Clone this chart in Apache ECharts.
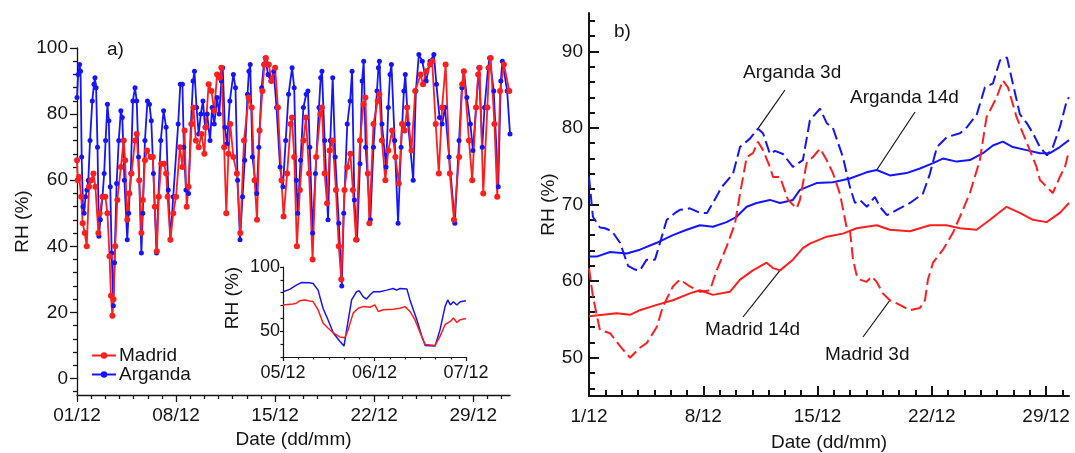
<!DOCTYPE html>
<html>
<head>
<meta charset="utf-8">
<title>Relative humidity, Madrid and Arganda, December</title>
<script src="https://cdn.jsdelivr.net/npm/echarts@6/dist/echarts.min.js"></script>
<style>
  html, body { margin: 0; padding: 0; background: #fff; }
  #chart { width: 1075px; height: 453px; }
</style>
</head>
<body>
<div id="chart"></div>
<script>
// ---------------------------------------------------------------
// Panel a) : RH records, [days since 01/12 00:00, RH %]
// ---------------------------------------------------------------
const argandaRH = [
  [0.00,85],[0.08,92],[0.18,95],[0.25,93],[0.33,67],[0.42,52],[0.50,50],[0.60,55],[0.70,57],[0.80,60],[0.92,72],
  [1.08,84],[1.20,89],[1.27,91],[1.35,88],[1.45,70],[1.55,43],[1.65,48],[1.80,55],[1.92,62],
  [2.02,72],[2.15,83],[2.25,78],[2.35,58],[2.45,38],[2.57,22],[2.65,35],[2.80,59],[2.95,72],
  [3.10,81],[3.20,79],[3.35,60],[3.55,42],[3.65,50],[3.80,62],[3.95,84],
  [4.10,88],[4.22,84],[4.35,67],[4.55,38],[4.65,50],[4.80,72],[4.98,84],
  [5.12,83],[5.25,78],[5.40,62],[5.62,38],[5.75,55],[5.92,72],
  [6.12,81],[6.30,76],[6.45,57],[6.60,42],[6.80,55],
  [7.15,77],[7.30,89],[7.45,89],[7.55,70],[7.70,57],[7.88,56],
  [8.05,77],[8.20,90],[8.30,93],[8.45,82],[8.60,74],[8.75,80],[8.90,84],
  [9.05,76],[9.20,80],[9.40,72],[9.55,82],[9.70,77],[9.90,85],
  [10.05,80],[10.20,90],[10.30,94],[10.45,76],[10.60,71],[10.80,84],
  [11.05,92],[11.20,88],[11.35,60],[11.52,42],[11.70,55],[11.85,66],
  [12.05,86],[12.15,93],[12.24,95],[12.40,67],[12.70,56],[12.85,70],
  [13.05,88],[13.20,95],[13.30,97],[13.50,92],[13.70,90],[13.90,93],
  [14.10,82],[14.35,64],[14.55,58],[14.75,72],[14.95,86],
  [15.20,94],[15.35,88],[15.50,60],[15.60,50],[15.80,66],
  [16.00,82],[16.20,86],[16.32,87],[16.45,70],[16.65,44],[16.85,62],
  [17.10,82],[17.22,91],[17.31,93],[17.50,72],[17.74,48],[17.90,72],
  [18.07,91],[18.25,67],[18.50,47],[18.71,28],[18.85,50],
  [19.10,77],[19.30,84],[19.44,93],[19.60,54],[19.79,42],
  [20.00,65],[20.15,90],[20.26,96],[20.40,70],[20.73,48],[20.95,70],
  [21.20,87],[21.30,94],[21.37,96],[21.55,77],[21.84,64],
  [22.00,82],[22.12,92],[22.22,95],[22.45,72],[22.69,47],[22.90,70],
  [23.10,87],[23.20,92],[23.40,77],[23.76,60],[23.95,87],
  [24.16,98],[24.40,96],[24.68,90],[24.95,96],
  [25.22,98],[25.40,89],[25.62,79],[25.80,77],
  [26.00,82],[26.30,67],[26.70,47],
  [27.00,72],[27.20,88],[27.34,93],[27.55,85],[27.80,77],[27.98,69],
  [28.20,82],[28.40,94],[28.64,70],[28.80,82],
  [29.05,94],[29.16,97],[29.45,87],[29.77,58],
  [29.95,90],[30.06,96],[30.40,87],[30.60,74]
];

const madridRH = [
  [0.00,66],[0.05,60],[0.15,61],[0.30,55],[0.40,47],[0.55,44],[0.69,40],[0.85,58],
  [1.00,60],[1.16,62],[1.30,58],[1.51,44],[1.60,50],[1.80,55],
  [2.00,55],[2.15,50],[2.30,37],[2.40,25],[2.50,19],[2.58,24],[2.70,40],[2.85,54],
  [3.10,64],[3.30,72],[3.40,66],[3.55,48],[3.70,56],[3.85,62],
  [4.10,72],[4.22,74],[4.40,60],[4.55,44],[4.65,54],[4.80,66],[4.95,69],
  [5.20,67],[5.36,67],[5.50,52],[5.64,38.5],[5.78,55],[5.95,65],
  [6.15,65],[6.30,62],[6.40,55],[6.60,42],[6.80,50],
  [7.00,55],[7.27,70],[7.45,64],[7.60,75],[7.75,52],[7.88,58],
  [8.10,77],[8.23,82],[8.40,72],[8.60,70],[8.80,74],
  [9.00,68],[9.10,76],[9.30,89],[9.50,87],[9.70,81],[9.90,92],
  [10.10,91],[10.20,94],[10.40,70],[10.55,50],[10.70,68],[10.83,77],
  [11.05,67],[11.30,62],[11.54,44],[11.80,72],
  [12.13,85],[12.35,82],[12.55,60],[12.72,48],[12.90,75],
  [13.10,87],[13.25,95],[13.35,97],[13.55,95],[13.75,90],
  [14.00,94],[14.20,82],[14.45,60],[14.60,49],[14.85,62],
  [15.10,77],[15.19,79],[15.35,67],[15.54,40],[15.75,57],
  [16.00,72],[16.18,79],[16.40,62],[16.65,36],[16.90,67],
  [17.20,80],[17.31,82],[17.50,62],[17.67,53],[17.85,69],
  [18.07,72],[18.30,57],[18.50,40],[18.68,30],[18.90,57],
  [19.10,64],[19.32,68],[19.50,57],[19.72,42],
  [20.00,72],[20.25,83],[20.38,85],[20.55,62],[20.66,47],[20.95,77],
  [21.25,84],[21.37,86],[21.55,72],[21.79,60],
  [22.00,69],[22.27,75],[22.50,67],[22.74,59],[22.97,77],
  [23.15,75],[23.33,82],[23.64,69],[23.90,87],
  [24.28,92],[24.45,89],[24.68,93],
  [24.95,95],[25.10,96],[25.35,77],[25.57,62],[25.80,82],
  [26.05,95],[26.35,62],[26.64,48],
  [27.00,67],[27.22,89],[27.34,93],[27.70,72],[27.93,60],
  [28.20,82],[28.35,92],[28.45,94],[28.71,56],
  [29.00,82],[29.12,94],[29.23,97],[29.50,77],[29.70,55],[29.90,87],
  [30.17,95],[30.55,87]
];

// Inset: 05/12 00:00 – 07/12 00:00, [hours since 05/12 00:00, RH %]
const insetArganda = [
  [0,80.8],[1.75,82.6],[3.5,85.9],[4.8,87.9],[7,87.7],[7.9,87.2],[9.2,82],[10.5,67.9],[11.8,59],
  [13.2,48.7],[14.9,42.3],[16,38.5],[16.7,51.3],[18,74.4],[19.3,80.8],[20,81.5],[21,76.9],[21.9,75.1],
  [22.8,78.2],[23.7,80.8],[25.4,80.8],[27.2,82],[28.9,83.3],[29.8,82],[30.7,83.3],[32.5,82.8],
  [33.3,74.4],[35.1,59],[36.4,46.2],[37.3,39],[39.9,38.5],[41.2,51.3],[42.5,69.2],[43.2,74.4],
  [43.9,70.5],[44.7,73],[45.6,70.5],[46.5,73],[48,73.8]
];
const insetMadrid = [
  [0,70.5],[2.6,71.3],[3.5,71.8],[4.4,73.8],[5.7,74.4],[7,73.6],[7.9,73.1],[9.2,66.7],[10.5,56.4],
  [11.8,52.6],[13.2,48.7],[14.9,45.6],[16.2,44.9],[17.1,51.3],[18.4,64.1],[19.7,67.9],[21,69.2],
  [22.8,68.7],[24.1,70.5],[25,65.4],[26.3,66.7],[28.9,67.2],[30.7,67.9],[32,69.2],[33.3,65.4],
  [34.6,59],[36,48.7],[37.3,39.7],[39.9,39],[41.2,46.2],[42.5,55.1],[43.9,57.7],[44.7,60.3],
  [45.6,56.9],[46.5,59],[48,60]
];

// ---------------------------------------------------------------
// Panel b) : running means, [days since 1/12 00:00, RH %]
// ---------------------------------------------------------------
const arganda3d = [
  [0,73.6],[0.24,68.4],[0.67,67],[0.98,66.9],[1.41,66.5],[1.9,65],[2.39,62],[2.82,61.5],[3.12,61.4],
  [3.53,62.8],[4.04,62.8],[4.35,65],[4.76,68],[5.27,68.9],[5.57,69.3],[6.18,69.5],[6.8,68.9],[7.23,68.9],
  [7.59,70.2],[8.14,72.3],[8.82,74],[9.25,77.5],[9.86,78.6],[10.35,79.9],[10.66,79.3],[11.08,76.6],
  [11.39,77],[11.88,76.6],[12.49,74.9],[13.1,75.8],[13.53,81],[14.15,82.5],[14.57,80.6],[14.94,80],
  [15.55,76.2],[15.98,72.3],[16.29,70.2],[16.59,70.6],[17.02,69.7],[17.51,71],[17.82,69.7],[18.25,68.6],
  [18.86,69.3],[19.66,70.2],[20.45,71.4],[20.88,74],[21.31,77.5],[21.92,78.8],[22.72,79.3],[23.15,80.1],
  [23.76,81.8],[24.25,85.3],[24.74,85.8],[25.17,88.8],[25.6,89.2],[25.96,85.8],[26.39,81.8],[26.82,80.6],
  [27.19,79.3],[27.62,77.5],[28.05,76.4],[28.41,77.5],[28.84,80.1],[29.27,83.6],[29.4,84]
];
const arganda14d = [
  [0,63.2],[0.47,63.2],[1.29,63.8],[2.31,63.6],[3.12,64.1],[4.15,65],[5.14,66],[5.98,66.7],[6.8,67.3],
  [7.59,67.1],[8.43,67.7],[9.04,68.4],[9.66,69.7],[10.27,70.2],[11.08,70.6],[11.7,70.2],[12.49,70.6],
  [12.92,71.9],[13.94,72.8],[14.94,72.9],[15.98,73.4],[17,74.2],[17.62,74.5],[18.43,73.8],[19.45,74.1],
  [20.27,74.7],[21.07,75.4],[21.68,76],[22.52,75.6],[23.33,75.8],[24.13,76.7],[24.74,77.7],[25.35,78.2],
  [25.96,77.5],[26.8,77.1],[27.62,76.7],[28.23,76.7],[28.84,77.5],[29.4,78.4]
];
const madrid3d = [
  [0,61.7],[0.24,58],[0.67,53.6],[1.29,53.2],[1.9,51.5],[2.51,50],[3.12,51.3],[3.53,51.9],[4.15,54],
  [4.53,56.7],[5.14,59.3],[5.57,60.2],[6.18,59.3],[6.8,58.6],[7.41,58.8],[7.82,61.4],[8.43,64.5],
  [8.94,67.5],[9.25,71.4],[9.66,76.2],[10.04,76.7],[10.35,78.2],[10.66,77.1],[11.08,74.9],[11.27,73.6],
  [11.7,73.6],[12.19,70.6],[12.72,69.5],[12.92,70.6],[13.33,75.4],[13.72,76.2],[14.15,77.3],[14.56,75.8],
  [14.94,74.1],[15.37,71.4],[15.78,67],[15.98,66.7],[16.17,62.8],[16.39,60.8],[16.59,60.2],[17,59.9],
  [17.31,60.6],[17.62,59.9],[18,58.4],[18.43,57.5],[19.04,56.9],[19.66,56.2],[20.27,56.5],[20.58,57.5],
  [20.76,60.2],[21.07,62.4],[21.68,64.1],[22.29,66.3],[22.72,68.4],[23.33,71.5],[23.94,75.8],[24.35,81.4],
  [24.97,84],[25.35,86.2],[25.66,85.3],[26.19,81.4],[26.58,79.3],[27,77.1],[27.41,74.9],[27.62,73.2],
  [28.03,72.3],[28.41,71.5],[28.84,73.6],[29.15,74.9],[29.4,77]
];
const madrid14d = [
  [0,55.4],[0.86,55.6],[1.7,55.8],[2.51,55.6],[3.12,56.2],[4.15,56.9],[5.14,57.5],[6.18,58.4],[6.8,58.8],
  [7.59,58.2],[8.63,58.6],[9.25,60.2],[10.04,61.4],[10.88,62.4],[11.27,61.7],[11.7,61.4],[12.49,62.8],
  [13.1,64.3],[13.53,64.9],[14.56,65.8],[15.55,66.2],[16.39,66.9],[17.62,67.3],[18.43,66.7],[19.66,66.5],
  [20.88,67.3],[21.9,67.3],[22.72,66.9],[23.74,66.7],[24.56,68],[25.58,69.7],[26.39,68.9],[27.19,68],
  [28.03,67.7],[28.84,68.9],[29.4,70.2]
];

// Tick values and labels
const dateTicks = [0, 7, 14, 21, 28];
const dateLabelsA = ['01/12', '08/12', '15/12', '22/12', '29/12'];
const dateLabelsB = ['1/12', '8/12', '15/12', '22/12', '29/12'];
const insetHourTicks = [0, 24, 48];
const insetDateLabels = ['05/12', '06/12', '07/12'];
const rhTicksA = [0, 20, 40, 60, 80, 100];
const rhTicksInset = [50, 100];
const rhTicksB = [50, 60, 70, 80, 90];

// ---------------------------------------------------------------
const FONT = '"Liberation Sans", Arial, sans-serif';
const INK = '#141414';
const RED = '#ff1e1e';
const BLUE = '#1414ff';

function steps(from, to, step, skip) {
  const out = [];
  for (let v = from; v <= to + 1e-9; v += step) {
    const r = Math.round(v * 100) / 100;
    if (!skip.includes(r)) out.push(r);
  }
  return out;
}

// One labelled axis plus a second, line-less axis that only carries minor ticks
function axisPair(c) {
  const lineStyle = { color: INK, width: c.lw };
  const major = {
    type: 'value', gridIndex: c.grid, min: c.min, max: c.max, position: c.position,
    axisLine: { show: true, onZero: false, lineStyle: lineStyle },
    axisTick: { show: true, inside: c.inside, length: c.majorLen, customValues: c.major, lineStyle: lineStyle },
    axisLabel: {
      show: true, customValues: c.major, margin: c.margin, color: INK,
      fontFamily: FONT, fontSize: c.fs,
      formatter: v => c.labels[c.major.indexOf(v)]
    },
    splitLine: { show: false },
    name: c.name || '', nameLocation: 'middle', nameGap: c.nameGap || 0,
    nameRotate: c.nameRotate || 0,
    nameTextStyle: { color: INK, fontFamily: FONT, fontSize: 19 }
  };
  const minor = {
    type: 'value', gridIndex: c.grid, min: c.min, max: c.max, position: c.position,
    axisLine: { show: false, onZero: false },
    axisTick: { show: true, inside: c.inside, length: c.minorLen, customValues: c.minor, lineStyle: lineStyle },
    axisLabel: { show: false },
    splitLine: { show: false }
  };
  return [major, minor];
}

const xAxes = [].concat(
  axisPair({ grid: 0, min: 0, max: 30.6, position: 'bottom', lw: 1.3, inside: false,
    major: dateTicks, labels: dateLabelsA, minor: steps(0, 30, 1, dateTicks),
    majorLen: 7, minorLen: 4, margin: 11, fs: 19, name: 'Date (dd/mm)', nameGap: 34 }),
  axisPair({ grid: 1, min: 0, max: 48, position: 'bottom', lw: 1.2, inside: false,
    major: insetHourTicks, labels: insetDateLabels, minor: steps(0, 48, 4, insetHourTicks),
    majorLen: 4, minorLen: 2.5, margin: 7, fs: 18 }),
  axisPair({ grid: 2, min: 0, max: 29.4, position: 'bottom', lw: 2, inside: true,
    major: dateTicks, labels: dateLabelsB, minor: steps(0, 29, 1, dateTicks),
    majorLen: 10, minorLen: 6, margin: 11, fs: 19, name: 'Date (dd/mm)', nameGap: 37 })
);
const yAxes = [].concat(
  axisPair({ grid: 0, min: -5, max: 100, position: 'left', lw: 1.3, inside: false,
    major: rhTicksA, labels: rhTicksA.map(String), minor: steps(-4, 96, 4, rhTicksA),
    majorLen: 7, minorLen: 4, margin: 9, fs: 19, name: 'RH (%)', nameGap: 45, nameRotate: 90 }),
  axisPair({ grid: 1, min: 30, max: 100, position: 'left', lw: 1.2, inside: false,
    major: rhTicksInset, labels: rhTicksInset.map(String), minor: steps(30, 90, 10, rhTicksInset),
    majorLen: 3, minorLen: 2.5, margin: 3, fs: 18 }),
  axisPair({ grid: 2, min: 45, max: 95, position: 'left', lw: 2, inside: true,
    major: rhTicksB, labels: rhTicksB.map(String), minor: steps(46, 94, 2, rhTicksB),
    majorLen: 10, minorLen: 6, margin: 6, fs: 19, name: 'RH (%)', nameGap: 31, nameRotate: 90 })
);

function recordSeries(name, data, color, size) {
  return {
    name: name, type: 'line', xAxisIndex: 0, yAxisIndex: 0, data: data,
    symbol: 'circle', symbolSize: size, showSymbol: true,
    lineStyle: { color: color, width: 1.8 }, itemStyle: { color: color },
    emphasis: { disabled: true }
  };
}
function plainSeries(name, data, color, grid, width, dashed) {
  return {
    name: name, type: 'line', xAxisIndex: grid * 2, yAxisIndex: grid * 2, data: data,
    showSymbol: false, symbol: 'none',
    lineStyle: { color: color, width: width, type: dashed ? [12, 5] : 'solid' },
    itemStyle: { color: color },
    emphasis: { disabled: true }
  };
}

const chart = echarts.init(document.getElementById('chart'), null, { renderer: 'canvas' });

chart.setOption({
  animation: false,
  backgroundColor: '#ffffff',
  textStyle: { fontFamily: FONT },
  grid: [
    { left: 77, top: 48, width: 433, height: 347, outerBoundsMode: 'none', containLabel: false },
    { left: 283, top: 267, width: 183, height: 90, outerBoundsMode: 'none', containLabel: false },
    { left: 589, top: 13, width: 480, height: 383, outerBoundsMode: 'none', containLabel: false }
  ],
  xAxis: xAxes,
  yAxis: yAxes,
  legend: {
    data: ['Madrid', 'Arganda'], orient: 'vertical', left: 86, top: 341,
    itemWidth: 24, itemHeight: 8, itemGap: 0, selectedMode: false,
    textStyle: { color: INK, fontFamily: FONT, fontSize: 19, padding: [0, 0, 0, -2] }
  },
  series: [
    recordSeries('Arganda', argandaRH, BLUE, 5),
    recordSeries('Madrid', madridRH, RED, 6),
    plainSeries('Arganda, 05–07/12', insetArganda, BLUE, 1, 1.5, false),
    plainSeries('Madrid, 05–07/12', insetMadrid, RED, 1, 1.5, false),
    plainSeries('Arganda 14d', arganda14d, BLUE, 2, 2, false),
    plainSeries('Madrid 14d', madrid14d, RED, 2, 2, false),
    plainSeries('Arganda 3d', arganda3d, BLUE, 2, 2, true),
    plainSeries('Madrid 3d', madrid3d, RED, 2, 2, true)
  ]
});

// Labels and leader lines for panel b), tips anchored on the curves
function tip(series, t) {
  const p = series.find(d => d[0] === t);
  return chart.convertToPixel({ xAxisIndex: 4, yAxisIndex: 4 }, p);
}
const notes = [
  { text: 'Arganda 3d',  x: 743, y: 63,  from: [785, 90],  to: tip(arganda3d, 10.35) },
  { text: 'Arganda 14d', x: 850, y: 88,  from: [915, 112], to: tip(arganda14d, 17.62) },
  { text: 'Madrid 14d',  x: 705, y: 320, from: [743, 317], to: tip(madrid14d, 11.7) },
  { text: 'Madrid 3d',   x: 825, y: 345, from: [863, 337], to: tip(madrid3d, 18.43) }
];
const graphics = [];
notes.forEach(n => {
  graphics.push({ type: 'text', x: n.x, y: n.y, silent: true,
    style: { text: n.text, fill: INK, font: '19px ' + FONT } });
  graphics.push({ type: 'line', silent: true,
    shape: { x1: n.from[0], y1: n.from[1], x2: n.to[0], y2: n.to[1] },
    style: { stroke: INK, lineWidth: 1.2 } });
});
graphics.push({ type: 'text', x: 107, y: 40, silent: true, style: { text: 'a)', fill: INK, font: '19px ' + FONT } });
graphics.push({ type: 'text', x: 614, y: 22, silent: true, style: { text: 'b)', fill: INK, font: '19px ' + FONT } });
graphics.push({ type: 'text', x: 233, y: 298, rotation: Math.PI / 2, silent: true,
  style: { text: 'RH (%)', fill: INK, font: '19px ' + FONT, align: 'center', verticalAlign: 'middle' } });

chart.setOption({ graphic: graphics });
</script>
</body>
</html>
